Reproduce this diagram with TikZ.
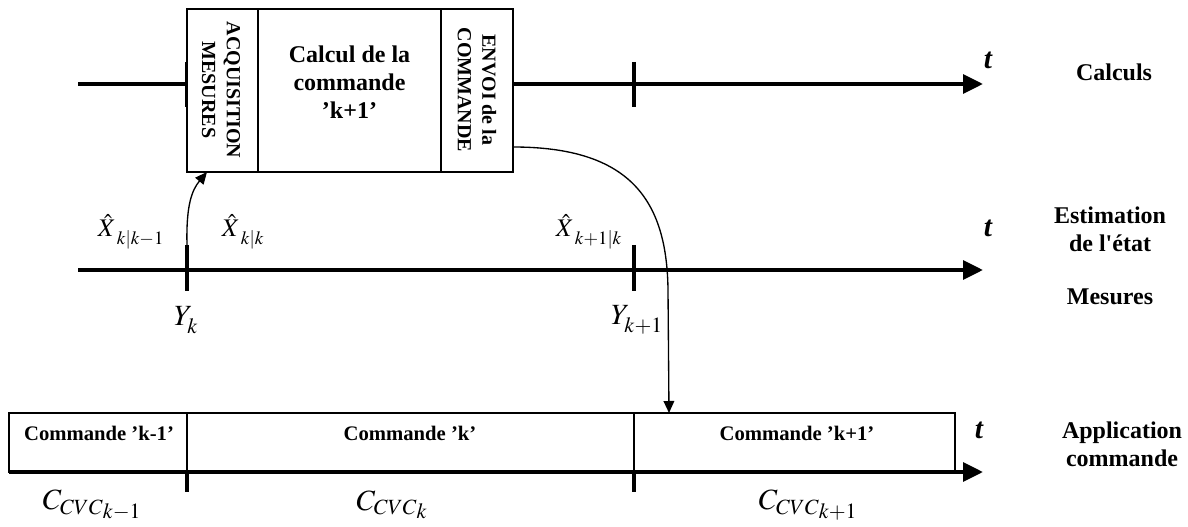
\documentclass[tikz,border=0pt]{standalone}
\usepackage{mathptmx}
\usepackage[no-math]{fontspec}
\setmainfont{Liberation Serif}
\usetikzlibrary{arrows.meta}
\newcommand{\lowsub}[1]{\raisebox{-3pt}{$\scriptstyle #1$}}
\tikzset{
  axisline/.style={line width=3pt, -{Triangle[length=15pt,width=14pt]}},
  tickline/.style={line width=3pt},
  seg/.style={draw, line width=0.8pt, fill=white, inner sep=0pt},
  conn/.style={line width=1pt, -{Triangle[length=9pt,width=8pt]}},
  lbl/.style={font=\bfseries\fontsize{18}{21}\selectfont, align=center, inner sep=0pt},
  vlbl/.style={font=\bfseries\fontsize{15}{18.5}\selectfont, align=center, rotate=-90, inner sep=0pt},
  cmd/.style={font=\bfseries\fontsize{15.5}{18}\selectfont, inner sep=0pt},
  tlbl/.style={font=\bfseries\itshape\fontsize{22}{24}\selectfont, inner sep=0pt},
  mlbl/.style={font=\fontsize{22}{24}\selectfont, inner sep=0pt},
  xlbl/.style={font=\fontsize{19}{21}\selectfont, inner sep=0pt},
}
\begin{document}
\begin{tikzpicture}[x=0.75pt,y=-0.75pt]
\useasboundingbox (0,0) rectangle (1188,527);
% ---- top axis: Calculs
\coordinate (a1s) at (78,84);
\coordinate (a1e) at (983,84);
\draw[axisline] (a1s) -- (a1e);
\coordinate (t1a) at (187,62);
\coordinate (t1b) at (187,107);
\draw[tickline] (t1a) -- (t1b);
\coordinate (t2a) at (634,62);
\coordinate (t2b) at (634,107);
\draw[tickline] (t2a) -- (t2b);
\node[seg, minimum width=53.25pt, minimum height=122.25pt] (acq) at (222.5,90.5) {};
\node[seg, minimum width=137.25pt, minimum height=122.25pt] (calc) at (349.5,90.5) {};
\node[seg, minimum width=54pt, minimum height=122.25pt] (envoi) at (477,90.5) {};
\node[vlbl] (acqt) at (221,90) {ACQUISITION\\MESURES};
\node[lbl] (calct) at (349.5,82) {Calcul de la\\commande\\’k+1’};
\node[vlbl] (envoit) at (477,90) {ENVOI de la\\COMMANDE};
\node[tlbl] (tt1) at (988,60) {t};
% ---- middle axis: estimation / mesures
\coordinate (a2s) at (78,270);
\coordinate (a2e) at (983,270);
\draw[axisline] (a2s) -- (a2e);
\coordinate (yk) at (187,245);
\coordinate (ykb) at (187,291);
\draw[tickline] (yk) -- (ykb);
\coordinate (yk1) at (634,245);
\coordinate (yk1b) at (634,291);
\draw[tickline] (yk1) -- (yk1b);
\node[tlbl] (tt2) at (988,228) {t};
\node[xlbl] (x1) at (131,232) {$\hat{X}_{\;\lowsub{k|k-1}}$};
\node[xlbl] (x2) at (243,232) {$\hat{X}_{\;\lowsub{k|k}}$};
\node[xlbl] (x3) at (589,232) {$\hat{X}_{\;\lowsub{k+1|k}}$};
\node[mlbl] (y1) at (186,320) {$Y_{\lowsub{k}}$};
\node[mlbl] (y2) at (637,320) {$Y_{\lowsub{k+1}}$};
% ---- bottom: application commande
\node[seg, minimum width=133.5pt, minimum height=44.25pt] (c1) at (98,442.5) {};
\node[seg, minimum width=335.25pt, minimum height=44.25pt] (c2) at (410.5,442.5) {};
\node[seg, minimum width=240.75pt, minimum height=44.25pt] (c3) at (794.5,442.5) {};
\node[cmd] (c1t) at (99,433) {Commande ’k-1’};
\node[cmd] (c2t) at (410,433) {Commande ’k’};
\node[cmd] (c3t) at (797,433) {Commande ’k+1’};
\coordinate (a3s) at (9,472);
\coordinate (a3e) at (983,472);
\draw[axisline] (a3s) -- (a3e);
\coordinate (b1a) at (187,472);
\coordinate (b1b) at (187,492);
\draw[tickline] (b1a) -- (b1b);
\coordinate (b2a) at (634,472);
\coordinate (b2b) at (634,492);
\draw[tickline] (b2a) -- (b2b);
\node[tlbl] (tt3) at (979,430) {t};
\node[mlbl] (cc1) at (92,505) {$C_{CVC\lowsub{k-1}}$};
\node[mlbl] (cc2) at (392,505) {$C_{CVC\lowsub{k}}$};
\node[mlbl] (cc3) at (808,505) {$C_{CVC\lowsub{k+1}}$};
% ---- right labels
\node[lbl] (rcalc) at (1114,72) {Calculs};
\node[lbl] (rest) at (1110,229) {Estimation\\de l\textquotesingle état};
\node[lbl] (rmes) at (1110,297) {Mesures};
\node[lbl] (rapp) at (1122,444) {Application\\commande};
% ---- connectors
\coordinate (acqin) at (207,172);
\draw[conn] (yk) .. controls (186,205) and (192,190) .. (acqin);
\coordinate (envout) at (513,147);
\coordinate (c3in) at (669,413);
\draw[conn] (envout) .. controls (630,147) and (667,200) .. (668,290) -- (c3in);
\end{tikzpicture}
\end{document}
